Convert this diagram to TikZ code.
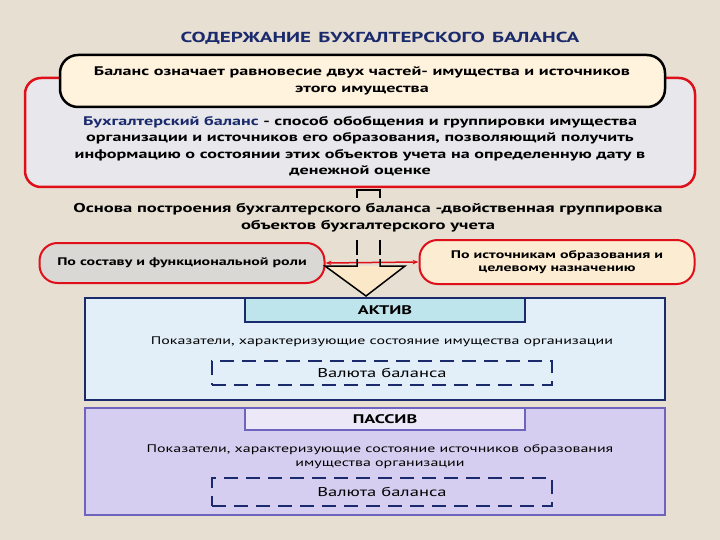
\documentclass[tikz,border=0pt]{standalone}
\usepackage{fontspec}
\setmainfont{PT Sans}[FakeStretch=1.45]
\usetikzlibrary{arrows.meta}
\definecolor{bg}{HTML}{E6DFD2}
\definecolor{navy}{HTML}{1A2A6C}
\definecolor{redb}{HTML}{E0101A}
\definecolor{redfill}{RGB}{232,232,236}
\definecolor{cream}{RGB}{255,243,222}
\definecolor{arrfill}{RGB}{250,232,200}
\definecolor{lovl}{RGB}{218,216,212}
\definecolor{rovl}{RGB}{252,236,210}
\definecolor{aktfill}{RGB}{226,238,248}
\definecolor{akthead}{RGB}{190,228,236}
\definecolor{pasline}{RGB}{110,100,190}
\definecolor{pasfill}{RGB}{214,206,240}
\definecolor{pashead}{RGB}{236,232,248}
\tikzset{
 txt/.style={font=\bfseries\fontsize{12.5}{16.5}\selectfont, align=center, text=black},
 oval/.style={draw=redb, line width=2pt, rounded corners=18pt},
 dbox/.style={draw=navy, line width=2.5pt, dash pattern=on 14pt off 8pt},
}
\begin{document}
\begin{tikzpicture}[x=1pt,y=-1pt]
\fill[bg] (0,0) rectangle (720,540);
\useasboundingbox (0,0) rectangle (720,540);
\node[font=\bfseries\fontsize{14.5}{16}\selectfont, text=navy] (title) at (380,38) {СОДЕРЖАНИЕ\enspace БУХГАЛТЕРСКОГО\enspace БАЛАНСА};
% red box
\draw[redb, line width=2.5pt, fill=redfill, rounded corners=16pt] (25,78) rectangle (695,187);
\node[txt] (def) at (360,146) {\textcolor{navy}{Бухгалтерский баланс} - способ обобщения и группировки имущества\\ организации и источников его образования, позволяющий получить\\ информацию о состоянии этих объектов учета на определенную дату в\\ денежной оценке};
% black box
\draw[black, line width=2.5pt, fill=cream, rounded corners=18pt] (60,55) rectangle (665,107);
\node[txt] (bal) at (362,81) {Баланс означает равновесие двух частей- имущества и источников\\ этого имущества};
\node[txt, font=\bfseries\fontsize{12.8}{17}\selectfont] (osn) at (368,218) {Основа построения бухгалтерского баланса -двойственная группировка\\ объектов бухгалтерского учета};
% ovals
\node[oval, fill=lovl, txt, font=\bfseries\fontsize{11}{13}\selectfont, minimum width=285pt, minimum height=40pt] (left) at (182,263) {По составу и функциональной роли};
\node[oval, fill=rovl, txt, font=\bfseries\fontsize{11}{13}\selectfont, minimum width=275pt, minimum height=44pt] (right) at (557,262) {По источникам образования и\\ целевому назначению};
\draw[redb, line width=1.5pt, {Stealth[length=6pt]}-{Stealth[length=6pt]}] (left.east) -- (right.west);
% aktiv
\draw[navy, line width=2pt, fill=aktfill] (85,298) rectangle (665,400);
\node[draw=navy, line width=2pt, fill=akthead, minimum width=280pt, minimum height=24pt, txt] (akt) at (385,310) {АКТИВ};
\node[txt, font=\fontsize{11}{13}\selectfont] (pa) at (382,342) {Показатели, характеризующие состояние имущества организации};
\node[dbox, minimum width=340pt, minimum height=24pt, txt, font=\fontsize{12.8}{14}\selectfont] (va) at (382,373) {Валюта баланса};
% arrow outline
\fill[arrfill] (325,266) -- (405,266) -- (366,296) -- cycle;
\draw[black, line width=1.5pt] (357,198) -- (357,190) -- (380,190) -- (380,198);
\draw[black, line width=1.5pt] (357,240) -- (357,255) (380,240) -- (380,255);
\draw[black, line width=1.5pt] (357,259) -- (357,266) -- (325,266) -- (366,296) -- (405,266) -- (380,266) -- (380,259);
% passiv
\draw[pasline, line width=2pt, fill=pasfill] (85,408) rectangle (665,515);
\node[draw=pasline, line width=2pt, fill=pashead, minimum width=280pt, minimum height=22pt, txt] (pas) at (385,419) {ПАССИВ};
\node[txt, font=\fontsize{11}{14}\selectfont] (pp) at (380,457) {Показатели, характеризующие состояние источников образования\\ имущества организации};
\node[dbox, minimum width=340pt, minimum height=28pt, txt, font=\fontsize{12.8}{14}\selectfont] (vp) at (382,492) {Валюта баланса};
\end{tikzpicture}
\end{document}
